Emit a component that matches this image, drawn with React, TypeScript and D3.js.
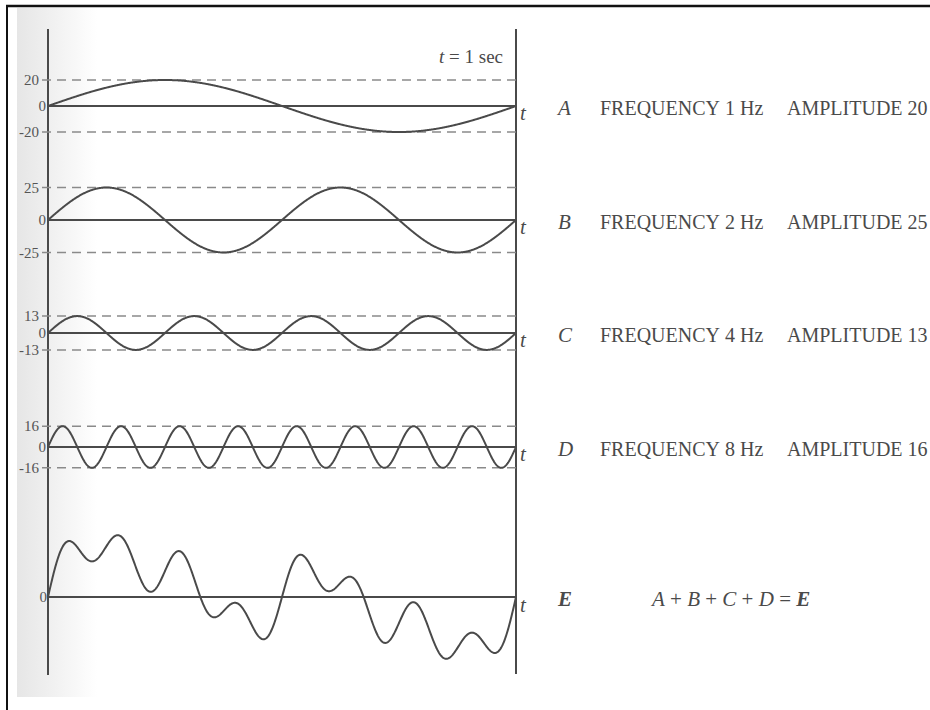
import React from "react";
import * as d3 from "d3";

// ---- data ----
const waveNames = ["A", "B", "C", "D"];
const frequencies = [1, 2, 4, 8]; // Hz
const amplitudes = [20, 25, 13, 16];
const sumName = "E";
const durationSec = 1;

// ---- layout ----
const W = 930;
const H = 710;
const panelZero = [106, 220, 333, 447, 597];
const labelBaseline = [115, 229, 342, 456, 606];
const INK = "#4a4a4a";
const SERIF = "'Liberation Serif', 'Times New Roman', serif";

const x = d3.scaleLinear().domain([0, durationSec]).range([48, 516]);
const yOff = d3.scaleLinear().domain([-50, 50]).range([65, -65]);

const samples = d3.range(0, 1001).map((i) => (i / 1000) * durationSec);

function component(k: number, t: number) {
  return amplitudes[k] * Math.sin(2 * Math.PI * frequencies[k] * t);
}

function pathFor(fn: (t: number) => number, zero: number) {
  const line = d3
    .line<number>()
    .x((t) => x(t))
    .y((t) => zero + yOff(fn(t)))
    .curve(d3.curveLinear);
  return line(samples) || "";
}

export default function App() {
  const x0 = x(0);
  const x1 = x(durationSec);
  return (
    <svg
      width={W}
      height={H}
      style={{ position: "absolute", left: 0, top: 0, background: "#fff" }}
      fontFamily={SERIF}
    >
      <defs>
        <linearGradient id="scan" x1="0" x2="1" y1="0" y2="0">
          <stop offset="0" stopColor="#e6e6e6" />
          <stop offset="0.5" stopColor="#f2f2f2" />
          <stop offset="1" stopColor="#ffffff" />
        </linearGradient>
      </defs>
      <rect x={0} y={0} width={W} height={H} fill="#fff" />
      <rect x={17} y={8} width={80} height={689} fill="url(#scan)" />
      {/* frame */}
      <line x1={6} x2={W} y1={6} y2={6} stroke="#111" strokeWidth={2.5} />
      <line x1={7} x2={7} y1={5} y2={H} stroke="#111" strokeWidth={2} />

      {/* vertical axes */}
      <line x1={x0} x2={x0} y1={29} y2={675} stroke={INK} strokeWidth={2} />
      <line x1={x1} x2={x1} y1={29} y2={674} stroke={INK} strokeWidth={2} />

      <text x={503} y={63} fontSize={19} fill={INK} textAnchor="end">
        <tspan fontStyle="italic">t</tspan> = 1 sec
      </text>

      {waveNames.map((name, k) => {
        const z = panelZero[k];
        const a = amplitudes[k];
        return (
          <g key={name}>
            {[a, -a].map((v) => (
              <g key={v}>
                <line
                  x1={42}
                  x2={x1}
                  y1={z + yOff(v)}
                  y2={z + yOff(v)}
                  stroke="#8a8a8a"
                  strokeWidth={1.5}
                  strokeDasharray="9,6"
                />
                <text
                  x={39}
                  y={z + yOff(v)}
                  dy="0.35em"
                  fontSize={15}
                  fill="#555"
                  textAnchor="end"
                >
                  {v < 0 ? "-" + Math.abs(v) : String(v)}
                </text>
              </g>
            ))}
            <text x={46} y={z} dy="0.35em" fontSize={15} fill="#555" textAnchor="end">
              0
            </text>
            <line x1={x0} x2={x1} y1={z} y2={z} stroke={INK} strokeWidth={2} />
            <path
              d={pathFor((t) => component(k, t), z)}
              fill="none"
              stroke={INK}
              strokeWidth={2}
            />
            <text x={520} y={z + 14} fontSize={21} fontStyle="italic" fill={INK}>
              t
            </text>
            <text x={558} y={labelBaseline[k]} fontSize={21} fontStyle="italic" fill={INK}>
              {name}
            </text>
            <text x={600} y={labelBaseline[k]} fontSize={20} fill={INK}>
              FREQUENCY
            </text>
            <text x={725} y={labelBaseline[k]} fontSize={20} fill={INK}>
              {frequencies[k]} Hz
            </text>
            <text x={787} y={labelBaseline[k]} fontSize={20} fill={INK}>
              AMPLITUDE {a}
            </text>
          </g>
        );
      })}

      {/* sum panel */}
      {(() => {
        const z = panelZero[4];
        const fn = (t: number) =>
          d3.sum(frequencies.map((_, k) => component(k, t)));
        return (
          <g>
            <text x={47} y={z} dy="0.35em" fontSize={15} fill="#555" textAnchor="end">
              0
            </text>
            <line x1={x0} x2={x1} y1={z} y2={z} stroke={INK} strokeWidth={2} />
            <path d={pathFor(fn, z)} fill="none" stroke={INK} strokeWidth={2} />
            <text x={520} y={z + 15} fontSize={21} fontStyle="italic" fill={INK}>
              t
            </text>
            <text
              x={558}
              y={labelBaseline[4]}
              fontSize={21}
              fontStyle="italic"
              fontWeight="bold"
              fill={INK}
            >
              {sumName}
            </text>
            <text x={652} y={labelBaseline[4]} fontSize={21} fill={INK}>
              {waveNames.map((n, i) => (
                <React.Fragment key={n}>
                  <tspan fontStyle="italic">{n}</tspan>
                  <tspan>{i < waveNames.length - 1 ? " + " : " = "}</tspan>
                </React.Fragment>
              ))}
              <tspan fontStyle="italic" fontWeight="bold">
                {sumName}
              </tspan>
            </text>
          </g>
        );
      })()}
    </svg>
  );
}
